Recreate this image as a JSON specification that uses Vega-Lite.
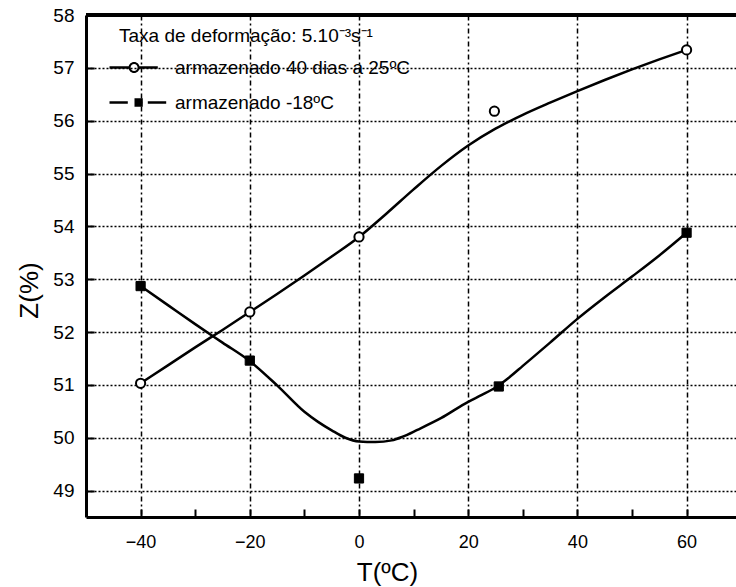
{
  "$schema": "https://vega.github.io/schema/vega-lite/v6.json",
  "width": 650,
  "height": 502,
  "autosize": {"type": "none"},
  "padding": {"left": 86, "top": 15, "right": 0, "bottom": 70},
  "background": "white",
  "config": {
    "font": "Liberation Sans",
    "view": {"stroke": null},
    "axis": {"labelFont": "Liberation Sans", "titleFont": "Liberation Sans", "labelColor": "black", "titleColor": "black", "titleFontWeight": "normal"},
    "legend": {"labelFont": "Liberation Sans", "titleFont": "Liberation Sans"}
  },
  "datasets": {
    "pts": [
      {"T": -40, "Z": 51.03, "serie": "armazenado 40 dias a 25ºC"},
      {"T": -20, "Z": 52.38, "serie": "armazenado 40 dias a 25ºC"},
      {"T": 0, "Z": 53.8, "serie": "armazenado 40 dias a 25ºC"},
      {"T": 24.8, "Z": 56.18, "serie": "armazenado 40 dias a 25ºC"},
      {"T": 60, "Z": 57.34, "serie": "armazenado 40 dias a 25ºC"},
      {"T": -40, "Z": 52.87, "serie": "armazenado -18ºC"},
      {"T": -20, "Z": 51.46, "serie": "armazenado -18ºC"},
      {"T": 0, "Z": 49.23, "serie": "armazenado -18ºC"},
      {"T": 25.6, "Z": 50.97, "serie": "armazenado -18ºC"},
      {"T": 60, "Z": 53.88, "serie": "armazenado -18ºC"}
    ],
    "curve": [
      {"T": -40, "Z": 51.03, "serie": "a"},
      {"T": -35, "Z": 51.37, "serie": "a"},
      {"T": -30, "Z": 51.71, "serie": "a"},
      {"T": -25, "Z": 52.04, "serie": "a"},
      {"T": -20, "Z": 52.38, "serie": "a"},
      {"T": -15, "Z": 52.72, "serie": "a"},
      {"T": -10, "Z": 53.07, "serie": "a"},
      {"T": -5, "Z": 53.43, "serie": "a"},
      {"T": 0, "Z": 53.8, "serie": "a"},
      {"T": 5, "Z": 54.24, "serie": "a"},
      {"T": 10, "Z": 54.7, "serie": "a"},
      {"T": 15, "Z": 55.14, "serie": "a"},
      {"T": 20, "Z": 55.53, "serie": "a"},
      {"T": 25, "Z": 55.85, "serie": "a"},
      {"T": 30, "Z": 56.11, "serie": "a"},
      {"T": 35, "Z": 56.34, "serie": "a"},
      {"T": 40, "Z": 56.56, "serie": "a"},
      {"T": 45, "Z": 56.77, "serie": "a"},
      {"T": 50, "Z": 56.97, "serie": "a"},
      {"T": 55, "Z": 57.16, "serie": "a"},
      {"T": 60, "Z": 57.34, "serie": "a"},
      {"T": -40, "Z": 52.87, "serie": "b"},
      {"T": -35, "Z": 52.51, "serie": "b"},
      {"T": -30, "Z": 52.15, "serie": "b"},
      {"T": -25, "Z": 51.8, "serie": "b"},
      {"T": -20, "Z": 51.45, "serie": "b"},
      {"T": -15, "Z": 50.99, "serie": "b"},
      {"T": -10, "Z": 50.49, "serie": "b"},
      {"T": -7.5, "Z": 50.3, "serie": "b"},
      {"T": -5, "Z": 50.14, "serie": "b"},
      {"T": -2.5, "Z": 50.0, "serie": "b"},
      {"T": 0, "Z": 49.93, "serie": "b"},
      {"T": 3, "Z": 49.92, "serie": "b"},
      {"T": 6, "Z": 49.95, "serie": "b"},
      {"T": 8, "Z": 50.02, "serie": "b"},
      {"T": 10.7, "Z": 50.15, "serie": "b"},
      {"T": 15, "Z": 50.37, "serie": "b"},
      {"T": 20, "Z": 50.68, "serie": "b"},
      {"T": 22.5, "Z": 50.81, "serie": "b"},
      {"T": 25, "Z": 50.95, "serie": "b"},
      {"T": 27.5, "Z": 51.14, "serie": "b"},
      {"T": 30, "Z": 51.36, "serie": "b"},
      {"T": 35, "Z": 51.8, "serie": "b"},
      {"T": 40, "Z": 52.25, "serie": "b"},
      {"T": 45, "Z": 52.66, "serie": "b"},
      {"T": 50, "Z": 53.05, "serie": "b"},
      {"T": 55, "Z": 53.45, "serie": "b"},
      {"T": 60, "Z": 53.88, "serie": "b"}
    ]
  },
  "layer": [
    {
      "data": {"name": "curve"},
      "mark": {"type": "line", "interpolate": "monotone", "color": "black", "strokeWidth": 2.5, "clip": true},
      "encoding": {
        "x": {
          "field": "T", "type": "quantitative",
          "scale": {"domain": [-50, 69.05], "nice": false, "zero": false},
          "axis": {
            "title": "T(ºC)", "titleFontSize": 26, "titleX": 301, "titlePadding": 8,
            "values": [-40, -30, -20, -10, 0, 10, 20, 30, 40, 50, 60],
            "labelExpr": "datum.value % 20 === 0 ? datum.label : ''",
            "labelFontSize": 18, "labelPadding": 24,
            "domainColor": "black", "domainWidth": 3,
            "tickColor": "black", "tickWidth": 2,
            "tickSize": -8,
            "grid": true, "gridColor": "black", "gridWidth": 1.5, "gridDash": [5, 3, 2, 3],
            "gridOpacity": {"condition": {"test": "datum.value % 20 === 0", "value": 1}, "value": 0}
          }
        },
        "y": {
          "field": "Z", "type": "quantitative",
          "scale": {"domain": [48.5, 58], "nice": false, "zero": false},
          "axis": {
            "title": "Z(%)", "titleFontSize": 26, "titleY": 275, "titlePadding": 10,
            "values": [49, 49.5, 50, 50.5, 51, 51.5, 52, 52.5, 53, 53.5, 54, 54.5, 55, 55.5, 56, 56.5, 57, 57.5, 58],
            "labelExpr": "datum.value % 1 === 0 ? datum.label : ''",
            "labelFontSize": 19, "labelPadding": 20,
            "domainColor": "black", "domainWidth": 3,
            "tickColor": "black", "tickWidth": 2,
            "tickSize": -8,
            "grid": true, "gridColor": "black", "gridWidth": 1.5, "gridDash": [2, 2],
            "gridOpacity": {"condition": {"test": "datum.value % 1 === 0", "value": 1}, "value": 0}
          }
        },
        "detail": {"field": "serie"}
      }
    },
    {
      "data": {"name": "curve"},
      "mark": {"type": "rule", "color": "black", "strokeWidth": 3},
      "encoding": {"y": {"datum": 58}}
    },
    {
      "data": {"name": "pts"},
      "transform": [{"filter": "datum.serie === 'armazenado 40 dias a 25ºC'"}],
      "mark": {"type": "point", "shape": "circle", "filled": true, "fill": "white", "stroke": "black", "strokeWidth": 2, "opacity": 1, "size": 85},
      "encoding": {
        "x": {"field": "T", "type": "quantitative"},
        "y": {"field": "Z", "type": "quantitative"}
      }
    },
    {
      "data": {"name": "pts"},
      "transform": [{"filter": "datum.serie === 'armazenado -18ºC'"}],
      "mark": {"type": "point", "shape": "square", "filled": true, "fill": "black", "stroke": "black", "strokeWidth": 1, "opacity": 1, "size": 85},
      "encoding": {
        "x": {"field": "T", "type": "quantitative"},
        "y": {"field": "Z", "type": "quantitative"}
      }
    },
    {
      "data": {"name": "pts"},
      "mark": {"type": "point", "filled": true, "fill": "black", "size": 0},
      "encoding": {
        "x": {"field": "T", "type": "quantitative"},
        "y": {"field": "Z", "type": "quantitative"},
        "shape": {
          "field": "serie", "type": "nominal",
          "scale": {"domain": ["armazenado 40 dias a 25ºC", "armazenado -18ºC"], "range": ["M-3.8,-0.25H0.1V0.25H-3.8Z M2.14,-0.25H5.86V0.25H2.14Z M2.22,0A1.1,1.1 0 1,1 0.02,0A1.1,1.1 0 1,1 2.22,0Z M1.82,0A0.7,0.7 0 1,0 0.42,0A0.7,0.7 0 1,0 1.82,0Z", "M-3.8,-0.25H-0.14V0.25H-3.8Z M3.86,-0.25H7.54V0.25H3.86Z M1.2,-0.85H2.86V0.85H1.2Z"]},
          "legend": {
            "title": "Taxa de deformação: 5.10⁻³s⁻¹",
            "orient": "none", "legendX": 33, "legendY": 12,
            "padding": 0, "titleFontSize": 19, "titleFontWeight": "normal", "titleColor": "black",
            "titlePadding": 12, "titleLimit": 0, "labelLimit": 0,
            "labelFontSize": 19, "labelColor": "black", "labelOffset": 37,
            "rowPadding": 15, "symbolSize": 100, "symbolFillColor": "black", "symbolOpacity": 1
          }
        }
      }
    }
  ]
}
